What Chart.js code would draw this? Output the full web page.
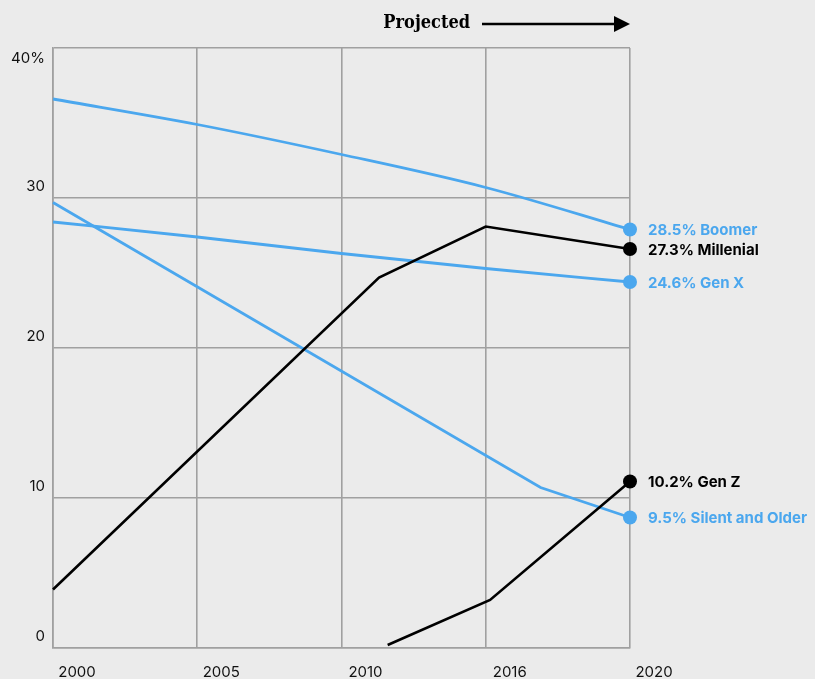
<!DOCTYPE html>
<html>
<head>
<meta charset="utf-8">
<script src="https://cdn.jsdelivr.net/npm/chart.js@4/dist/chart.umd.min.js"></script>
<style>
html,body{margin:0;padding:0;background:#ebebeb;}
canvas{display:block;}
</style>
</head>
<body>
<canvas id="c" width="815" height="679"></canvas>
<script>
// Tick labels
const xTickLabels = ['2000', '2005', '2010', '2016', '2020'];
const yTickValues = [0, 10, 20, 30, 40];

// Series (x = position along category axis, 0 = 2000 ... 4 = 2020)
const boomerX = [0, 1, 2, 3, 4];
const boomerY = [36.6, 34.9, 32.9, 30.7, 27.9];

const genXX = [0, 1, 2, 3, 4];
const genXY = [28.4, 27.4, 26.3, 25.3, 24.4];

const silentX = [0, 3.38, 4];
const silentY = [29.7, 10.7, 8.7];

const millenialX = [0, 2.26, 3, 4];
const millenialY = [3.9, 24.7, 28.1, 26.6];

const genZX = [2.32, 3.03, 4];
const genZY = [0.2, 3.2, 11.1];

// End labels
const seriesNames = ['Boomer', 'Millenial', 'Gen X', 'Gen Z', 'Silent and Older'];
const seriesShares = ['28.5%', '27.3%', '24.6%', '10.2%', '9.5%'];

const BLUE = '#4ba7ee';
const BLACK = '#000000';
const GRID = '#a0a0a0';

function pts(xs, ys) { return xs.map((x, i) => ({ x: x, y: ys[i] })); }

function ds(label, xs, ys, color, width, smooth) {
  return {
    label: label,
    data: pts(xs, ys),
    borderColor: color,
    backgroundColor: color,
    borderWidth: width,
    tension: smooth ? 0.4 : 0,
    cubicInterpolationMode: smooth ? 'monotone' : 'default',
    pointRadius: c => c.dataIndex === xs.length - 1 ? 7 : 0,
    pointHoverRadius: c => c.dataIndex === xs.length - 1 ? 7 : 0,
    pointBorderWidth: 0,
    clip: false
  };
}

const datasets = [
  ds(seriesNames[0], boomerX, boomerY, BLUE, 2.8, true),
  ds(seriesNames[1], millenialX, millenialY, BLACK, 2.6, false),
  ds(seriesNames[2], genXX, genXY, BLUE, 2.8, true),
  ds(seriesNames[3], genZX, genZY, BLACK, 2.6, false),
  ds(seriesNames[4], silentX, silentY, BLUE, 2.8, false)
];
const labelColors = [BLUE, BLACK, BLUE, BLACK, BLUE];

const decor = {
  id: 'decor',
  beforeDraw(chart) {
    const ctx = chart.ctx;
    ctx.save();
    ctx.fillStyle = '#ebebeb';
    ctx.fillRect(0, 0, chart.width, chart.height);
    ctx.restore();
  },
  afterDraw(chart) {
    const ctx = chart.ctx;
    const area = chart.chartArea;
    const xs = chart.scales.x, ys = chart.scales.y;
    ctx.save();
    // y tick labels
    ctx.font = '15px Inter, "Noto Sans", sans-serif';
    ctx.fillStyle = '#111';
    ctx.textAlign = 'right';
    ctx.textBaseline = 'middle';
    yTickValues.forEach(v => {
      const py = Math.max(ys.getPixelForValue(v) - 12, area.top + 10);
      ctx.fillText(v === 40 ? v + '%' : String(v), area.left - 8, py);
    });
    // x tick labels
    ctx.textAlign = 'center';
    xTickLabels.forEach((t, i) => {
      ctx.fillText(t, xs.getPixelForValue(i) + 24, area.bottom + 24);
    });
    // end labels
    ctx.font = 'bold 15px Inter, "Noto Sans", sans-serif';
    ctx.textAlign = 'left';
    chart.data.datasets.forEach((d, i) => {
      const meta = chart.getDatasetMeta(i);
      const p = meta.data[meta.data.length - 1];
      ctx.fillStyle = labelColors[i];
      ctx.fillText(seriesShares[i] + ' ' + seriesNames[i], p.x + 18, p.y + 1);
    });
    // Projected header
    const right = area.right;
    ctx.fillStyle = '#000';
    ctx.font = 'bold 18px "DejaVu Serif Condensed", "Liberation Serif", serif';
    ctx.textAlign = 'right';
    ctx.fillText('Projected', right - 160, 23);
    ctx.strokeStyle = '#000';
    ctx.lineWidth = 2.5;
    ctx.beginPath();
    ctx.moveTo(right - 148, 24);
    ctx.lineTo(right - 14, 24);
    ctx.stroke();
    ctx.beginPath();
    ctx.moveTo(right, 24);
    ctx.lineTo(right - 16, 16);
    ctx.lineTo(right - 16, 32);
    ctx.closePath();
    ctx.fill();
    ctx.restore();
  }
};

new Chart(document.getElementById('c'), {
  type: 'line',
  data: { datasets: datasets },
  options: {
    responsive: false,
    animation: false,
    events: [],
    layout: { padding: { left: 53, right: 185, top: 48, bottom: 31 } },
    plugins: { legend: { display: false }, tooltip: { enabled: false } },
    scales: {
      x: {
        type: 'linear', min: 0, max: 4,
        ticks: { display: false, stepSize: 1 },
        grid: { color: GRID, lineWidth: 1.6, drawTicks: false },
        border: { display: true, color: GRID, width: 1.6 }
      },
      y: {
        type: 'linear', min: 0, max: 40,
        ticks: { display: false, stepSize: 10 },
        grid: { color: GRID, lineWidth: 1.6, drawTicks: false },
        border: { display: true, color: GRID, width: 1.6 }
      }
    }
  },
  plugins: [decor]
});
</script>
</body>
</html>
